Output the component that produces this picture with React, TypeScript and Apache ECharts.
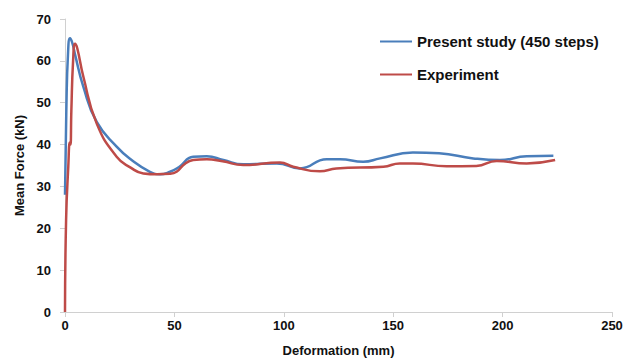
import React, { useEffect, useRef } from "react";
import * as echarts from "echarts";

const seriesNames = ["Present study (450 steps)", "Experiment"];
const xTicks = [0, 50, 100, 150, 200, 250];
const yTicks = [0, 10, 20, 30, 40, 50, 60, 70];

const presentStudy: [number, number][] = [
  [0, 28], [0.6, 48], [1.4, 62], [2.3, 65.4], [3.4, 64.2], [4.6, 61.5],
  [8.4, 53.8], [14.5, 45.4], [23.6, 39.5], [30, 36.5], [38.8, 33.5],
  [43.4, 32.9], [48, 33.5], [52, 34.6], [58.6, 37.1], [64.8, 37.2],
  [72.4, 36.3], [81.5, 35.3], [96.8, 35.5], [107.4, 34.3], [119.6, 36.5],
  [125.7, 36.5], [136.3, 35.9], [144, 36.7], [159, 38.1], [171, 37.9],
  [186.6, 36.7], [198.8, 36.3], [211, 37.2], [223.2, 37.3],
];

const experiment: [number, number][] = [
  [0, 0], [0.5, 22], [1.5, 34.7], [2.2, 40.5], [2.5, 40], [2.9, 48],
  [3.7, 60], [4.6, 64.1], [5.6, 63], [8.4, 56.2], [14.5, 45], [23.6, 37.1],
  [30, 34.5], [35.8, 33.1], [42, 32.9], [48, 33], [51, 33.5], [55, 35.5],
  [58.6, 36.3], [64.8, 36.5], [72, 36], [81.5, 35.1], [98.3, 35.7],
  [104.3, 34.7], [116.5, 33.6], [124, 34.3], [145.5, 34.7], [153, 35.5],
  [159, 35.5], [174.4, 34.8], [188, 34.9], [197.3, 36.1], [211, 35.5],
  [224, 36.3],
];

const colors = ["#4a7ebb", "#be4b48"];

export default function App() {
  const ref = useRef<HTMLDivElement>(null);
  useEffect(() => {
    if (!ref.current) return;
    const chart = echarts.init(ref.current, null, { renderer: "svg" });
    const font = "'Liberation Sans', Arial, sans-serif";
    chart.setOption({
      animation: false,
      textStyle: { fontFamily: font },
      grid: { left: 65, right: 14, top: 19, bottom: 52 },
      legend: {
        orient: "vertical",
        left: 375,
        top: 29,
        itemGap: 18,
        itemWidth: 32,
        itemHeight: 16,
        icon: "path://M0,7 L32,7 L32,9 L0,9 Z",
        textStyle: { fontFamily: font, fontSize: 15, fontWeight: "bold", color: "#111" },
        data: seriesNames,
      },
      xAxis: {
        type: "value",
        min: xTicks[0],
        max: xTicks[xTicks.length - 1],
        interval: 50,
        name: "Deformation (mm)",
        nameLocation: "middle",
        nameGap: 32,
        nameTextStyle: { fontSize: 13, fontWeight: "bold", color: "#111" },
        axisLine: { lineStyle: { color: "#d0d0d0", width: 1 } },
        axisTick: { show: true, length: 5, lineStyle: { color: "#d0d0d0" } },
        axisLabel: { fontSize: 13, fontWeight: "bold", color: "#111", margin: 7 },
        splitLine: { show: false },
      },
      yAxis: {
        type: "value",
        min: yTicks[0],
        max: yTicks[yTicks.length - 1],
        interval: 10,
        name: "Mean Force (kN)",
        nameLocation: "middle",
        nameGap: 38,
        nameTextStyle: { fontSize: 13, fontWeight: "bold", color: "#111" },
        axisLine: { show: true, lineStyle: { color: "#d0d0d0", width: 1 } },
        axisTick: { show: true, length: 5, lineStyle: { color: "#d0d0d0" } },
        axisLabel: { fontSize: 13, fontWeight: "bold", color: "#111", margin: 14 },
        splitLine: { show: false },
      },
      series: [
        {
          name: seriesNames[0],
          type: "line",
          data: presentStudy,
          smooth: 0.5,
          showSymbol: false,
          symbol: "none",
          lineStyle: { color: colors[0], width: 2.5 },
          itemStyle: { color: colors[0] },
        },
        {
          name: seriesNames[1],
          type: "line",
          data: experiment,
          smooth: 0.5,
          showSymbol: false,
          symbol: "none",
          lineStyle: { color: colors[1], width: 2.5 },
          itemStyle: { color: colors[1] },
        },
      ],
    });
    return () => chart.dispose();
  }, []);
  return (
    <div
      ref={ref}
      style={{ position: "fixed", left: 0, top: 0, width: 626, height: 364, background: "#fff" }}
    />
  );
}
